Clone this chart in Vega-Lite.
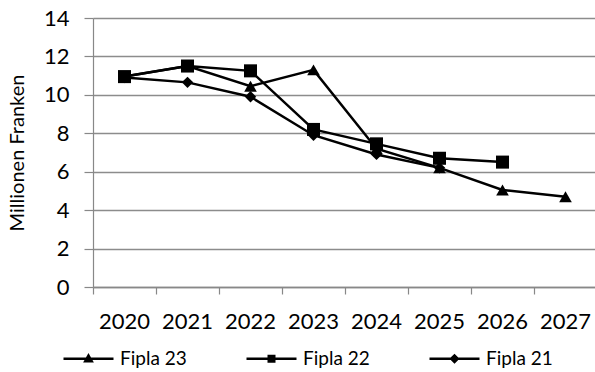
{
  "$schema": "https://vega.github.io/schema/vega-lite/v6.json",
  "width": 504,
  "height": 269,
  "autosize": "none",
  "padding": {"left": 93, "top": 18, "right": 0, "bottom": 85},
  "background": "white",
  "config": {
    "view": {"stroke": null},
    "font": "Lato",
    "axis": {"labelColor": "#000", "titleColor": "#000", "labelFont": "Lato", "titleFont": "Lato"}
  },
  "data": {
    "values": [
      {"year": "2020", "series": "Fipla 21", "value": 10.9},
      {"year": "2021", "series": "Fipla 21", "value": 10.65},
      {"year": "2022", "series": "Fipla 21", "value": 9.9},
      {"year": "2023", "series": "Fipla 21", "value": 7.9},
      {"year": "2024", "series": "Fipla 21", "value": 6.9},
      {"year": "2025", "series": "Fipla 21", "value": 6.2},
      {"year": "2020", "series": "Fipla 22", "value": 10.95},
      {"year": "2021", "series": "Fipla 22", "value": 11.5},
      {"year": "2022", "series": "Fipla 22", "value": 11.25},
      {"year": "2023", "series": "Fipla 22", "value": 8.2},
      {"year": "2024", "series": "Fipla 22", "value": 7.45},
      {"year": "2025", "series": "Fipla 22", "value": 6.7},
      {"year": "2026", "series": "Fipla 22", "value": 6.5},
      {"year": "2020", "series": "Fipla 23", "value": 10.95},
      {"year": "2021", "series": "Fipla 23", "value": 11.5},
      {"year": "2022", "series": "Fipla 23", "value": 10.45},
      {"year": "2023", "series": "Fipla 23", "value": 11.3},
      {"year": "2024", "series": "Fipla 23", "value": 7.2},
      {"year": "2025", "series": "Fipla 23", "value": 6.2},
      {"year": "2026", "series": "Fipla 23", "value": 5.05},
      {"year": "2027", "series": "Fipla 23", "value": 4.7}
    ]
  },
  "encoding": {
    "x": {
      "field": "year",
      "type": "ordinal",
      "scale": {"type": "band", "paddingInner": 0, "paddingOuter": 0},
      "axis": {
        "title": null,
        "labelAngle": 0,
        "labelFontSize": 22,
        "labelPadding": 17,
        "bandPosition": 0,
        "tickSize": 7,
        "tickColor": "#888",
        "tickWidth": 1.2,
        "domainColor": "#888",
        "domainWidth": 1.5,
        "grid": false
      }
    },
    "y": {
      "field": "value",
      "type": "quantitative",
      "scale": {"domain": [0, 14], "nice": false},
      "axis": {
        "title": "Millionen Franken",
        "titleFontSize": 20,
        "titleFontWeight": "normal",
        "titlePadding": 16,
        "values": [0, 2, 4, 6, 8, 10, 12, 14],
        "labelFontSize": 22,
        "labelPadding": 15,
        "tickSize": 9,
        "tickColor": "#888",
        "tickWidth": 1.2,
        "domainColor": "#888",
        "domainWidth": 1.2,
        "gridColor": "#8c8c8c",
        "gridWidth": 1.5
      }
    }
  },
  "layer": [
    {
      "mark": {"type": "line", "strokeWidth": 2.5},
      "encoding": {
        "color": {
          "field": "series",
          "type": "nominal",
          "scale": {"domain": ["Fipla 23", "Fipla 22", "Fipla 21"], "range": ["#000", "#000", "#000"]},
          "legend": {
            "title": null,
            "orient": "none",
            "direction": "horizontal",
            "legendX": -31,
            "legendY": 314,
            "padding": 0,
            "symbolSize": 2500,
            "labelFontSize": 19,
            "labelColor": "#000",
            "labelOffset": 5,
            "columnPadding": 54,
            "encode": {
              "symbols": {
                "update": {
                  "shape": {"signal": "datum.value === 'Fipla 23' ? 'M-1,0H1M0,-0.13L0.13,0.1L-0.13,0.1Z' : datum.value === 'Fipla 22' ? 'M-1,0H1M-0.11,-0.11H0.11V0.11H-0.11Z' : 'M-1,0H1M-0.13,0L0,-0.13L0.13,0L0,0.13Z'"},
                  "size": {"value": 2500},
                  "fill": {"value": "#000"},
                  "stroke": {"value": "#000"},
                  "strokeWidth": {"value": 2.5},
                  "opacity": {"value": 1}
                }
              }
            }
          }
        }
      }
    },
    {
      "transform": [{"filter": "datum.series === 'Fipla 21'"}],
      "mark": {"type": "point", "shape": "diamond", "size": 130, "filled": true, "opacity": 1, "color": "#000"}
    },
    {
      "transform": [{"filter": "datum.series === 'Fipla 22'"}],
      "mark": {"type": "point", "shape": "square", "size": 170, "filled": true, "opacity": 1, "color": "#000"}
    },
    {
      "transform": [{"filter": "datum.series === 'Fipla 23'"}],
      "mark": {"type": "point", "shape": "triangle-up", "size": 160, "filled": true, "opacity": 1, "color": "#000"}
    }
  ]
}
